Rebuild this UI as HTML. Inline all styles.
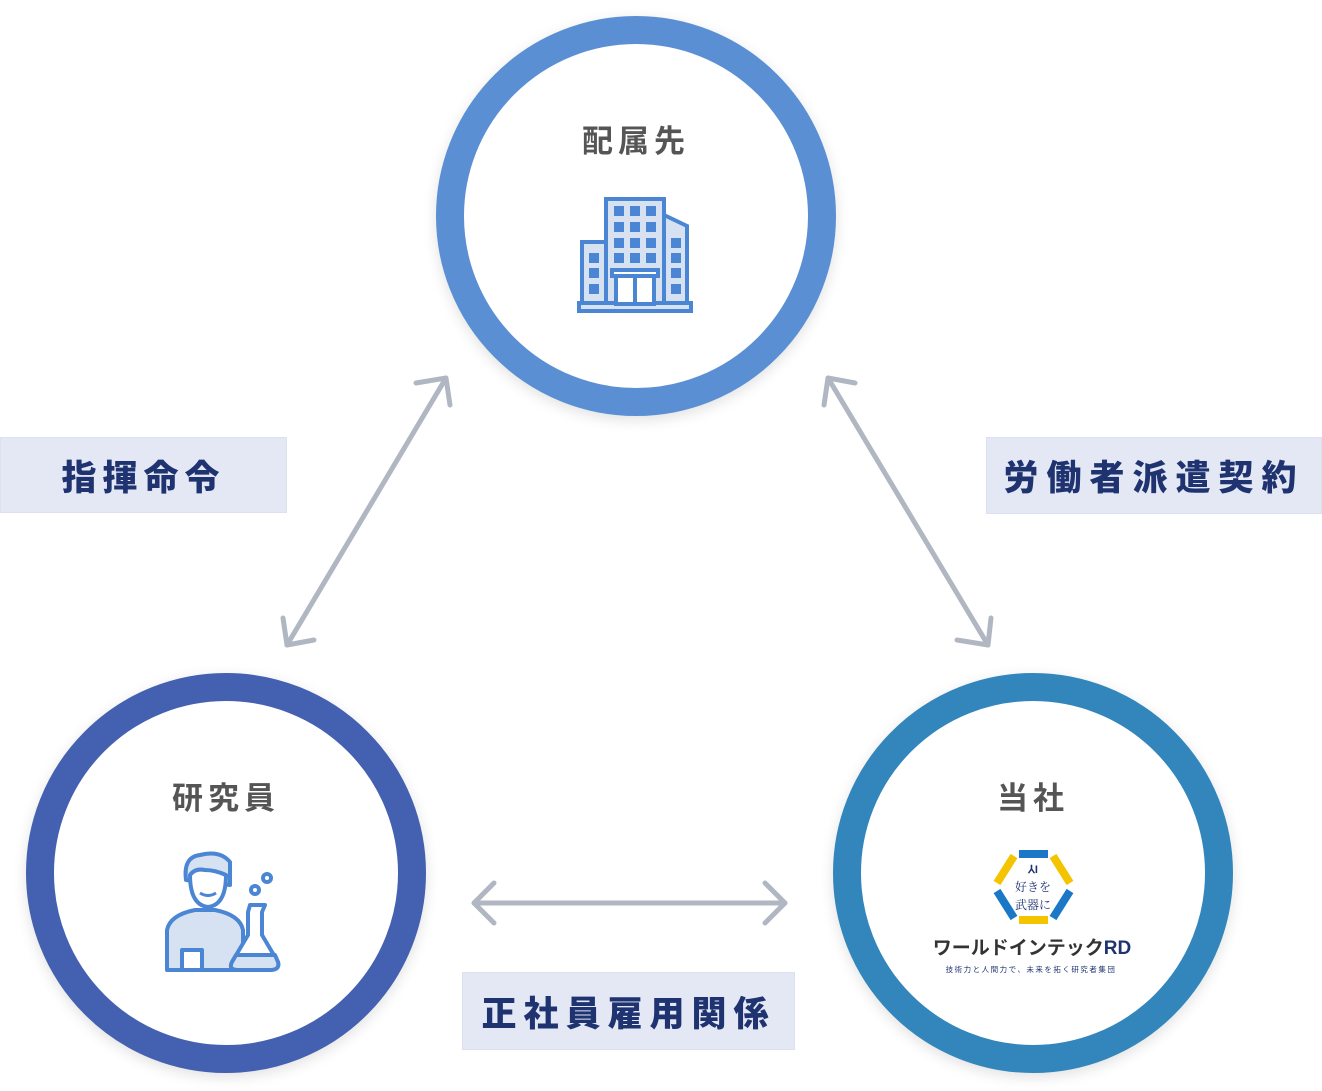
<!DOCTYPE html>
<html><head><meta charset="utf-8"><style>
*{margin:0;padding:0;box-sizing:border-box}
body{width:1322px;height:1091px;background:#fff;position:relative;overflow:hidden;font-family:"Liberation Sans","Noto Sans CJK JP",sans-serif}
.c{position:absolute;width:400px;height:400px;border-radius:50%;background:#fff;box-shadow:0 4px 14px rgba(0,0,0,0.12)}
.t{position:absolute;width:100%;text-align:center;font-size:31px;font-weight:bold;color:#555;letter-spacing:5px}
.lb{position:absolute;background:#e4e7f4;border:1px solid #dde0ee;color:#1e3370;font-weight:900;font-size:35px;letter-spacing:6px;display:flex;align-items:center;justify-content:center}
</style></head><body>
<div class="c" style="left:436px;top:16px;border:28px solid #5b8fd4"><div class="t" style="top:72px">配属先</div></div>
<div class="c" style="left:26px;top:673px;border:28px solid #4460b0"><div class="t" style="top:72px">研究員</div></div>
<div class="c" style="left:833px;top:673px;border:28px solid #3386bb"><div class="t" style="top:72px">当社</div></div>

<svg width="1322" height="1091" style="position:absolute;left:0;top:0" fill="none">
<g stroke="#b0b7c3" stroke-width="5" stroke-linecap="round" stroke-linejoin="round">
<line x1="287" y1="645" x2="446" y2="378"/>
<polyline points="416,383 446,378 450,405"/>
<polyline points="283,618 287,645 314,640"/>
<line x1="828" y1="378" x2="988" y2="645"/>
<polyline points="855,383 828,378 824,405"/>
<polyline points="957,640 988,645 991,618"/>
<line x1="474" y1="903" x2="785" y2="903"/>
<polyline points="494,883 474,903 494,923"/>
<polyline points="765,883 785,903 765,923"/>
</g>
<!-- building -->
<g stroke="#4a86d4" stroke-width="4" fill="#d6e1f2">
<rect x="606" y="199" width="58" height="107"/>
<rect x="582" y="242" width="24" height="64"/>
<polygon points="664,215 687,226 687,306 664,306"/>
<rect x="579" y="303" width="112" height="8"/>
<rect x="612" y="270" width="46" height="6" fill="#fff"/>
<rect x="616" y="276" width="38" height="28" fill="#fff"/>
<line x1="635" y1="276" x2="635" y2="304"/>
</g>
<g fill="#4a86d4">
<rect x="614" y="206" width="10" height="10"/><rect x="630" y="206" width="10" height="10"/><rect x="646" y="206" width="10" height="10"/>
<rect x="614" y="222" width="10" height="10"/><rect x="630" y="222" width="10" height="10"/><rect x="646" y="222" width="10" height="10"/>
<rect x="614" y="238" width="10" height="10"/><rect x="630" y="238" width="10" height="10"/><rect x="646" y="238" width="10" height="10"/>
<rect x="614" y="253" width="10" height="10"/><rect x="630" y="253" width="10" height="10"/><rect x="646" y="253" width="10" height="10"/>
<rect x="589" y="253" width="10" height="10"/><rect x="589" y="268" width="10" height="10"/><rect x="589" y="284" width="10" height="10"/>
<rect x="671" y="238" width="10" height="10"/><rect x="671" y="253" width="10" height="10"/><rect x="671" y="268" width="10" height="10"/><rect x="671" y="284" width="10" height="10"/>
</g>
<!-- researcher -->
<g stroke="#4a86d4" stroke-width="4" fill="#d6e1f2" stroke-linejoin="round">
<path d="M167,970 L167,930 Q170,915 195,910 L215,910 Q240,915 243,930 L243,970 Z"/>
<path d="M186,880 Q183,857 200,855 Q220,850 230,862 L230,885 Z"/>
<path d="M190,875 Q190,905 208,907 Q226,905 226,875 Q215,870 205,870 Q195,868 190,875 Z" fill="#fff"/>
<rect x="182" y="950" width="20" height="20" fill="#fff"/>
<path d="M250,905 L265,905 L262,912 L262,935 L278,962 Q280,970 270,970 L238,970 Q228,970 232,962 L248,935 L248,912 Z" fill="#fff"/>
<path d="M236,955 L275,955 L278,962 Q280,970 270,970 L238,970 Q228,970 232,962 Z"/>
<circle cx="255" cy="890" r="4" fill="#fff"/><circle cx="267" cy="878" r="4" fill="#fff"/>
</g>
<path d="M200,893 Q208,898 216,893" stroke="#4a86d4" stroke-width="3"/>
<!-- logo -->
<g stroke-width="8">
<line x1="1019" y1="854" x2="1048" y2="854" stroke="#1a78c6"/>
<line x1="1053" y1="856" x2="1070" y2="883" stroke="#f5c400"/>
<line x1="1070" y1="891" x2="1053" y2="918" stroke="#1a78c6"/>
<line x1="1048" y1="920" x2="1019" y2="920" stroke="#f5c400"/>
<line x1="1014" y1="918" x2="997" y2="891" stroke="#1a78c6"/>
<line x1="997" y1="883" x2="1014" y2="856" stroke="#f5c400"/>
</g>
<text x="1033" y="873" font-size="11" font-weight="bold" fill="#1e3370" text-anchor="middle">⅄I</text>
<text x="1033" y="891" font-size="12" fill="#1e3370" text-anchor="middle" font-family="Noto Serif CJK SC,serif">好きを</text>
<text x="1033" y="909" font-size="12" fill="#1e3370" text-anchor="middle" font-family="Noto Serif CJK SC,serif">武器に</text>
<text x="1032" y="954" font-size="19" font-weight="bold" fill="#333" text-anchor="middle" font-family="Liberation Sans,Noto Sans CJK JP,sans-serif">ワールドインテック<tspan fill="#1e3370">RD</tspan></text>
<text x="1031" y="972" font-size="7.5" fill="#1e3370" text-anchor="middle" font-family="Noto Sans CJK JP,sans-serif" letter-spacing="1.5">技術力と人間力で、未来を拓く研究者集団</text>
</svg>

<div class="lb" style="left:0;top:437px;width:287px;height:76px">指揮命令</div>
<div class="lb" style="left:986px;top:437px;width:336px;height:77px;letter-spacing:8px">労働者派遣契約</div>
<div class="lb" style="left:462px;top:972px;width:333px;height:78px;letter-spacing:7px">正社員雇用関係</div>
</body></html>
